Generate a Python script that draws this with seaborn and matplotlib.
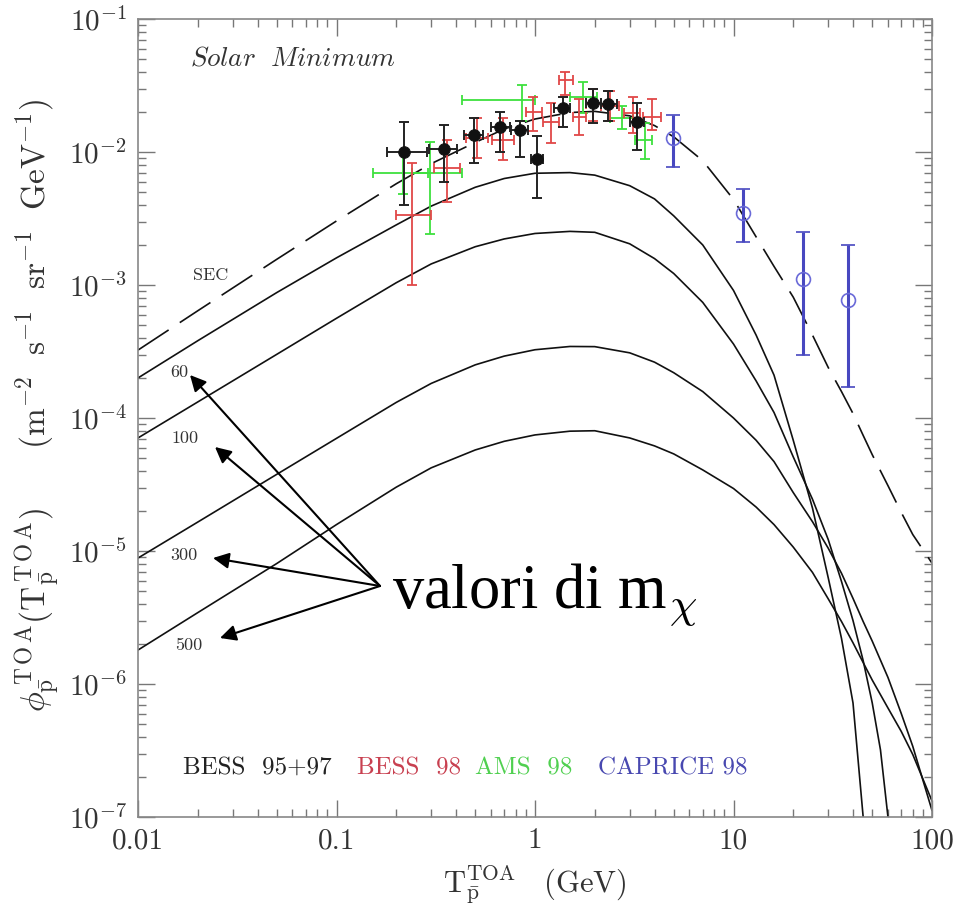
import numpy as np
import pandas as pd
import matplotlib
matplotlib.use("Agg")
import matplotlib.pyplot as plt
import seaborn as sns
from matplotlib.ticker import FixedLocator, FixedFormatter, NullFormatter

# ---------------- model curves (antiproton flux at top of atmosphere) ----------------
model_T = [0.01, 0.02, 0.05, 0.1, 0.2, 0.3, 0.5, 0.7, 1.0, 1.5, 2.0, 3.0, 4.0, 5.0, 7.0,
           10, 13, 16, 20, 25, 30, 35, 40, 45, 50, 60, 70, 80, 100]

sec_flux = [3.24e-4, 6.4e-4, 1.56e-3, 3.03e-3, 5.77e-3, 8.17e-3, 1.18e-2, 1.49e-2, 1.77e-2,
            1.98e-2, 2.02e-2, 1.87e-2, 1.58e-2, 1.3e-2, 8.6e-3, 4.4e-3, 2.3e-3, 1.38e-3,
            8.1e-4, 4.2e-4, 2.4e-4, 1.58e-4, 1.08e-4, 7.4e-5, 5.3e-5, 3.1e-5, 1.95e-5,
            1.33e-5, 8.1e-6]

m300_flux = [8.85e-6, 1.65e-5, 3.77e-5, 7.03e-5, 1.31e-4, 1.82e-4, 2.51e-4, 2.92e-4, 3.26e-4,
             3.45e-4, 3.44e-4, 3.09e-4, 2.63e-4, 2.19e-4, 1.58e-4, 1.0e-4, 6.8e-5, 4.7e-5,
             2.75e-5, 1.66e-5, 1.05e-5, 6.8e-6, 4.4e-6, 2.95e-6, 2.1e-6, 1.12e-6, 6.0e-7,
             3.4e-7, 1.12e-7]

m500_flux = [1.8e-6, 3.44e-6, 8.05e-6, 1.58e-5, 3.02e-5, 4.22e-5, 5.75e-5, 6.68e-5, 7.46e-5,
             7.96e-5, 8.02e-5, 7.08e-5, 6.17e-5, 5.37e-5, 4.07e-5, 2.95e-5, 2.14e-5, 1.58e-5,
             1.07e-5, 6.9e-6, 4.37e-6, 2.95e-6, 2.04e-6, 1.45e-6, 1.07e-6, 6.6e-7, 4.4e-7,
             2.95e-7, 1.32e-7]

m60_T = [0.01, 0.02, 0.05, 0.1, 0.2, 0.3, 0.5, 0.7, 1.0, 1.5, 2.0, 3.0, 4.0, 5.0, 7.0,
         10, 13, 16, 20, 25, 30, 35, 40, 45, 47]
m60_flux = [2.0e-4, 3.81e-4, 8.77e-4, 1.6e-3, 2.83e-3, 3.92e-3, 5.43e-3, 6.32e-3, 6.92e-3,
            7.0e-3, 6.7e-3, 5.58e-3, 4.44e-3, 3.31e-3, 2.0e-3, 9.1e-4, 4.2e-4, 2.1e-4,
            6.8e-5, 2.1e-5, 6.3e-6, 2.2e-6, 7.2e-7, 1.0e-7, 3e-8]

m100_T = [0.01, 0.02, 0.05, 0.1, 0.2, 0.3, 0.5, 0.7, 1.0, 1.5, 2.0, 3.0, 4.0, 5.0, 7.0,
          10, 13, 16, 20, 25, 30, 35, 40, 45, 50, 55, 60, 63]
m100_flux = [7.08e-5, 1.32e-4, 3.01e-4, 5.62e-4, 1.04e-3, 1.44e-3, 1.94e-3, 2.22e-3, 2.44e-3,
             2.53e-3, 2.49e-3, 2.04e-3, 1.58e-3, 1.22e-3, 7.4e-4, 3.6e-4, 1.9e-4, 1.1e-4,
             5.1e-5, 2.45e-5, 1.22e-5, 5.9e-6, 3.0e-6, 1.5e-6, 7.2e-7, 3.2e-7, 1.0e-7, 3e-8]

# ---------------- measurements ----------------
bess9597_T = [0.22, 0.35, 0.49, 0.67, 0.84, 1.02, 1.38, 1.96, 2.33, 3.27]
bess9597_flux = [1.0e-2, 1.05e-2, 1.34e-2, 1.54e-2, 1.46e-2, 8.86e-3, 2.14e-2, 2.33e-2, 2.3e-2, 1.68e-2]
bess9597_lo = [4.0e-3, 6.0e-3, 8.3e-3, 1.0e-2, 9.2e-3, 4.5e-3, 1.54e-2, 1.65e-2, 1.7e-2, 1.03e-2]
bess9597_hi = [1.68e-2, 1.6e-2, 1.8e-2, 2.0e-2, 1.7e-2, 1.32e-2, 2.6e-2, 3.0e-2, 2.9e-2, 2.33e-2]
bess9597_Tlo = [0.18, 0.294, 0.44, 0.6, 0.76, 0.95, 1.25, 1.8, 2.15, 3.0]
bess9597_Thi = [0.286, 0.403, 0.55, 0.75, 0.92, 1.1, 1.5, 2.15, 2.6, 3.55]

bess98_T = [0.24, 0.36, 0.51, 0.69, 0.98, 1.21, 1.42, 1.67, 1.96, 2.4, 3.1, 3.9]
bess98_flux = [3.36e-3, 7.6e-3, 1.27e-2, 1.23e-2, 2.0e-2, 1.68e-2, 3.5e-2, 1.83e-2, 2.3e-2, 2.2e-2, 1.96e-2, 1.83e-2]
bess98_lo = [1.0e-3, 4.2e-3, 9.0e-3, 8.7e-3, 1.45e-2, 1.17e-2, 2.7e-2, 1.35e-2, 1.7e-2, 1.7e-2, 1.4e-2, 1.46e-2]
bess98_hi = [8.3e-3, 1.23e-2, 1.8e-2, 1.8e-2, 2.6e-2, 2.33e-2, 4.0e-2, 2.5e-2, 3.0e-2, 2.9e-2, 2.6e-2, 2.5e-2]
bess98_Tlo = [0.20, 0.31, 0.45, 0.61, 0.9, 1.1, 1.32, 1.55, 1.8, 2.15, 2.8, 3.5]
bess98_Thi = [0.30, 0.42, 0.58, 0.78, 1.08, 1.32, 1.55, 1.8, 2.15, 2.65, 3.4, 4.3]

ams98_T = [0.216, 0.296, 0.86, 1.75, 2.74, 3.58]
ams98_flux = [6.95e-3, 6.95e-3, 2.46e-2, 2.6e-2, 1.8e-2, 1.23e-2]
ams98_lo = [4.8e-3, 2.4e-3, 1.7e-2, 1.96e-2, 1.5e-2, 8.9e-3]
ams98_hi = [1.0e-2, 1.19e-2, 3.2e-2, 3.36e-2, 2.2e-2, 1.65e-2]
ams98_Tlo = [0.152, 0.24, 0.43, 1.5, 2.4, 3.2]
ams98_Thi = [0.29, 0.43, 1.0, 2.05, 3.1, 3.9]

caprice98_T = [4.95, 11.2, 22.4, 37.8]
caprice98_flux = [1.27e-2, 3.47e-3, 1.11e-3, 7.7e-4]
caprice98_lo = [7.7e-3, 2.1e-3, 3.0e-4, 1.7e-4]
caprice98_hi = [1.9e-2, 5.3e-3, 2.5e-3, 2.0e-3]

# axis ticks
x_ticks = [0.01, 0.1, 1, 10, 100]
x_ticklabels = ["0.01", "0.1", "1", "10", "100"]
y_ticks = [1e-7, 1e-6, 1e-5, 1e-4, 1e-3, 1e-2, 1e-1]
y_ticklabels = [r"$10^{-7}$", r"$10^{-6}$", r"$10^{-5}$", r"$10^{-4}$",
                r"$10^{-3}$", r"$10^{-2}$", r"$10^{-1}$"]

mass_labels = ["60", "100", "300", "500"]
legend_names = ["BESS  95+97", "BESS  98", "AMS  98", "CAPRICE 98"]

# ---------------- style ----------------
sns.set_theme(style="ticks")
plt.rcParams["font.family"] = ["cmr10", "DejaVu Serif"]
plt.rcParams["mathtext.fontset"] = "cm"
plt.rcParams["axes.unicode_minus"] = False
plt.rcParams["axes.formatter.use_mathtext"] = True

W, H = 960, 907
fig = plt.figure(figsize=(W / 100, H / 100), dpi=100)
ax = fig.add_axes([138 / W, 1 - 817 / H, (932 - 138) / W, (817 - 19) / H])
ax.set_xscale("log")
ax.set_yscale("log")

def P(px, py):
    """figure fraction from pixel position measured from the top-left corner"""
    return (px / W, 1 - py / H)

# curves
solid = pd.concat([
    pd.DataFrame({"T": m60_T, "flux": m60_flux, "model": "60"}),
    pd.DataFrame({"T": m100_T, "flux": m100_flux, "model": "100"}),
    pd.DataFrame({"T": model_T, "flux": m300_flux, "model": "300"}),
    pd.DataFrame({"T": model_T, "flux": m500_flux, "model": "500"}),
])
sns.lineplot(data=solid, x="T", y="flux", units="model", estimator=None, sort=False,
             color="#111111", lw=1.2, ax=ax)
sec = pd.DataFrame({"T": model_T, "flux": sec_flux})
sns.lineplot(data=sec, x="T", y="flux", sort=False, color="#111111", lw=1.2,
             ax=ax).lines[-1].set_dashes([22, 8])

def asym(c, lo, hi):
    c, lo, hi = map(np.asarray, (c, lo, hi))
    return np.vstack([c - lo, hi - c])

ax.errorbar(ams98_T, ams98_flux, yerr=asym(ams98_flux, ams98_lo, ams98_hi),
            xerr=asym(ams98_T, ams98_Tlo, ams98_Thi), fmt="none", ecolor="#3ee03e",
            elinewidth=1.3, capsize=3.5, capthick=1.3)
ax.errorbar(bess98_T, bess98_flux, yerr=asym(bess98_flux, bess98_lo, bess98_hi),
            xerr=asym(bess98_T, bess98_Tlo, bess98_Thi), fmt="none", ecolor="#e04848",
            elinewidth=1.3, capsize=3.5, capthick=1.3)
ax.errorbar(bess9597_T, bess9597_flux, yerr=asym(bess9597_flux, bess9597_lo, bess9597_hi),
            xerr=asym(bess9597_T, bess9597_Tlo, bess9597_Thi), fmt="none", ecolor="#222222",
            elinewidth=1.4, capsize=3.5, capthick=1.4)
sns.scatterplot(x=bess9597_T, y=bess9597_flux, color="#111111", s=70, edgecolor="#111111",
                ax=ax, zorder=4)
ax.errorbar(caprice98_T, caprice98_flux, yerr=asym(caprice98_flux, caprice98_lo, caprice98_hi),
            fmt="o", ms=10, mfc="none", mec="#6a6ad8", mew=1.2, ecolor="#4848c0",
            elinewidth=2.2, capsize=5, capthick=1.8)

# axes
ax.set_xlim(0.01, 100)
ax.set_ylim(1e-7, 1e-1)
ax.xaxis.set_major_locator(FixedLocator(x_ticks))
ax.xaxis.set_major_formatter(FixedFormatter(x_ticklabels))
ax.yaxis.set_major_locator(FixedLocator(y_ticks))
ax.yaxis.set_major_formatter(FixedFormatter(y_ticklabels))
minor_x = [m * d for d in [0.01, 0.1, 1, 10] for m in range(2, 10)]
minor_y = [m * d for d in [1e-7, 1e-6, 1e-5, 1e-4, 1e-3, 1e-2] for m in range(2, 10)]
ax.xaxis.set_minor_locator(FixedLocator(minor_x))
ax.yaxis.set_minor_locator(FixedLocator(minor_y))
ax.xaxis.set_minor_formatter(NullFormatter())
ax.yaxis.set_minor_formatter(NullFormatter())
ax.tick_params(which="both", direction="in", top=True, right=True, color="#777777",
               width=1.0, labelsize=21, labelcolor="#333333")
ax.tick_params(which="major", length=12, pad=8)
ax.tick_params(which="minor", length=6)
for s in ax.spines.values():
    s.set_color("#888888")
    s.set_linewidth(1.2)
ax.set_xlabel("")
ax.set_ylabel("")

# axis titles
fig.text(*P(535, 885), r"$\mathrm{T}_{\bar{\mathrm{p}}}^{\mathrm{TOA}}\quad(\mathrm{GeV})$",
         ha="center", va="center", fontsize=22, color="#333333")
fig.text(*P(38, 405),
         r"$\phi_{\bar{\mathrm{p}}}^{\,\mathrm{T\,O\,A}}(\mathrm{T}_{\bar{\mathrm{p}}}^{\,\mathrm{T\,O\,A}})"
         r"\qquad(\mathrm{m}^{-2}\ \ \mathrm{s}^{-1}\ \ \mathrm{sr}^{-1}\ \ \mathrm{GeV}^{-1})$",
         ha="center", va="center", rotation=90, fontsize=24, color="#333333")

# annotations inside the frame
fig.text(*P(190, 58), r"$\mathit{Solar\ \ Minimum}$", ha="left", va="center",
         fontsize=19.5, color="#333333")
fig.text(*P(193, 275), "SEC", ha="left", va="center", fontsize=13, color="#333333")
for lab, (px, py) in zip(mass_labels, [(170, 372), (171, 438), (170, 555), (175, 645)]):
    fig.text(*P(px, py), lab, ha="left", va="center", fontsize=13, color="#333333")

tail = P(380, 586)
for tip in [(190, 375), (215, 447), (213, 558), (220, 638)]:
    ax.annotate("", xy=P(*tip), xytext=tail, xycoords="figure fraction",
                textcoords="figure fraction",
                arrowprops=dict(arrowstyle="-|>", color="black", lw=1.5,
                                mutation_scale=24, shrinkA=0, shrinkB=0))
fig.text(*P(392, 607), r"valori di m$_{\chi}$", ha="left", va="baseline",
         fontsize=45, family=["Liberation Serif", "DejaVu Serif"], color="black")

for name, px, col in zip(legend_names, [183, 357, 475, 598],
                         ["#222222", "#c84050", "#50d050", "#4848b0"]):
    fig.text(*P(px, 768), name, ha="left", va="center", fontsize=18, color=col)

fig.savefig("out.png", dpi=100)
